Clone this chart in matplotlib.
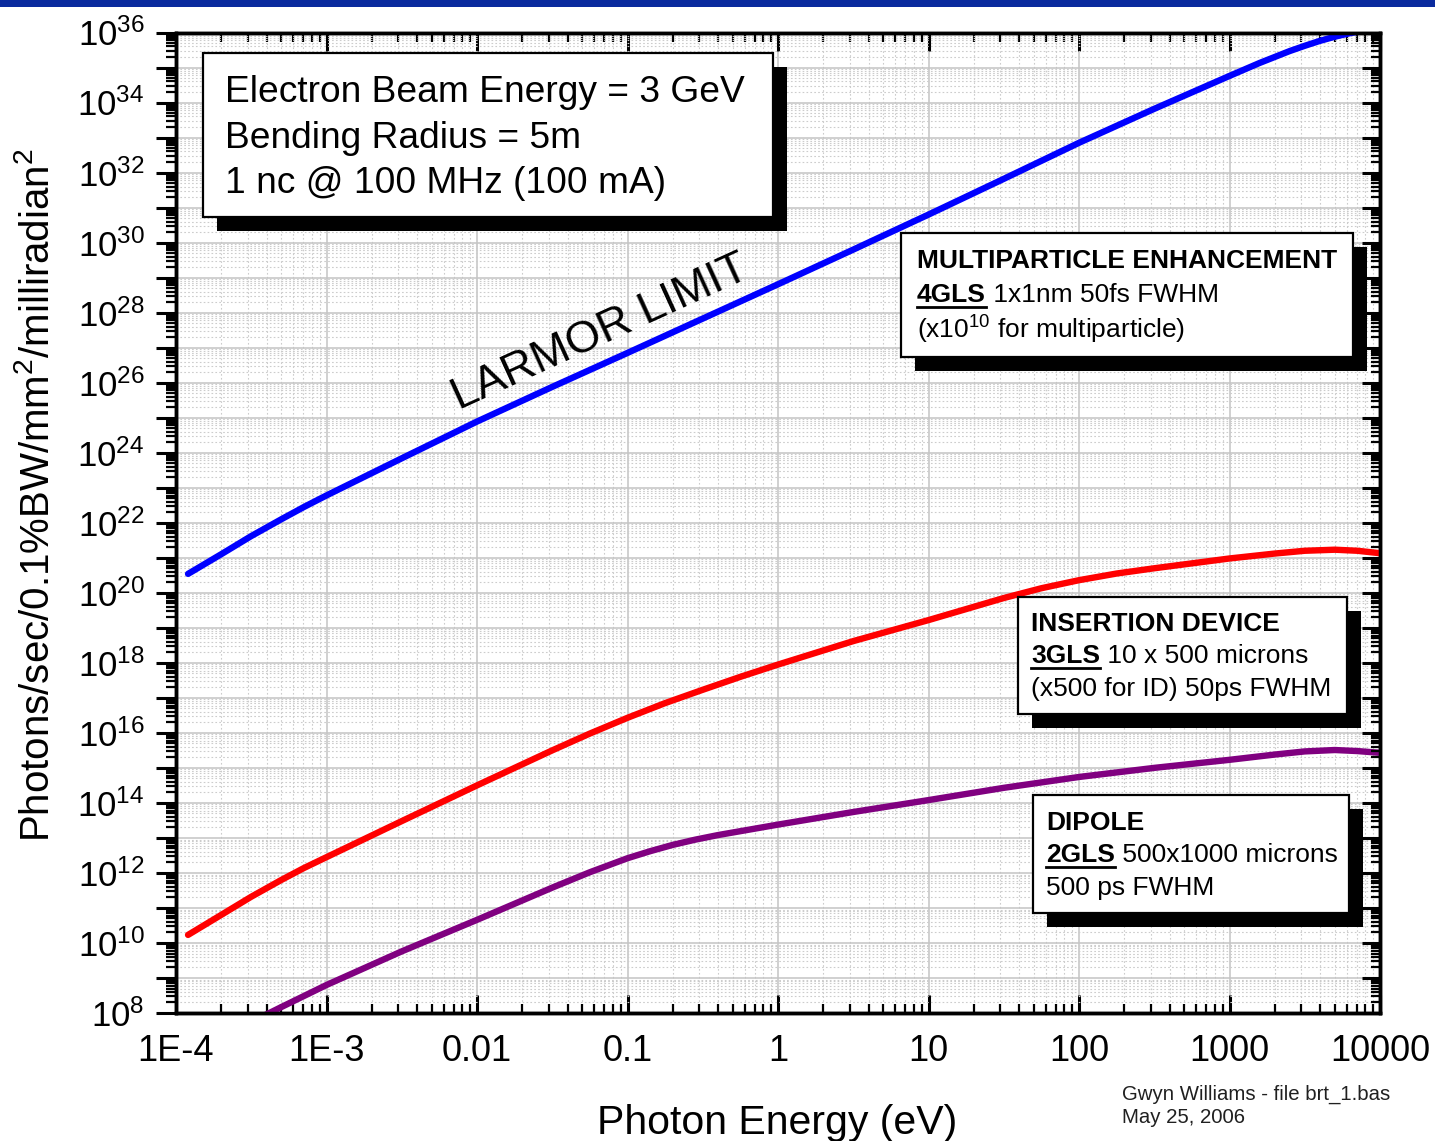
import numpy as np
import matplotlib
matplotlib.use('Agg')
import matplotlib.pyplot as plt
from matplotlib.patches import Rectangle
from matplotlib.lines import Line2D
from matplotlib.ticker import FixedLocator, FixedFormatter, LogLocator, FuncFormatter, NullFormatter

plt.rcParams['font.family'] = ['Liberation Sans', 'DejaVu Sans']
plt.rcParams['mathtext.fontset'] = 'custom'
plt.rcParams['mathtext.rm'] = 'Liberation Sans'
plt.rcParams['mathtext.it'] = 'Liberation Sans:italic'
plt.rcParams['mathtext.bf'] = 'Liberation Sans:bold'

# curves as log10(photon energy / eV), log10(brightness)
larmor_logE = [-3.92, -3.70, -3.50, -3.30, -3.15, -3.00, -2.50, -2.00, -1.50, -1.00, -0.50,
               0.00, 0.50, 1.00, 1.50, 2.00, 2.50, 3.00, 3.20, 3.40, 3.50, 3.60, 3.70, 3.80, 3.90, 4.00]
larmor_logB = [20.54, 21.10, 21.62, 22.10, 22.45, 22.78, 23.84, 24.89, 25.88, 26.85, 27.83,
               28.81, 29.80, 30.80, 31.82, 32.85, 33.82, 34.76, 35.13, 35.47, 35.62, 35.76, 35.88, 35.98, 36.06, 36.10]

insertion_logE = [-3.92, -3.70, -3.50, -3.30, -3.15, -3.00, -2.50, -2.00, -1.50, -1.25, -1.00, -0.75,
                  -0.50, -0.25, 0.00, 0.50, 1.00, 1.50, 1.75, 2.00, 2.25, 2.50, 3.00, 3.30, 3.50,
                  3.70, 3.85, 4.00]
insertion_logB = [10.23, 10.80, 11.32, 11.80, 12.14, 12.45, 13.48, 14.50, 15.50, 15.98, 16.43, 16.85,
                  17.23, 17.60, 17.95, 18.62, 19.22, 19.85, 20.13, 20.36, 20.55, 20.70, 20.98, 21.12, 21.20,
                  21.23, 21.20, 21.13]

dipole_logE = [-3.45, -3.30, -3.00, -2.50, -2.00, -1.50, -1.25, -1.00, -0.85, -0.70, -0.55, -0.40,
               -0.20, 0.00, 0.50, 1.00, 1.50, 2.00, 2.50, 3.00, 3.30, 3.50, 3.70, 3.85, 4.00]
dipole_logB = [7.85, 8.17, 8.80, 9.76, 10.66, 11.58, 12.02, 12.42, 12.62, 12.80, 12.95, 13.08,
               13.23, 13.38, 13.74, 14.08, 14.43, 14.74, 15.00, 15.23, 15.38, 15.47, 15.51, 15.48, 15.43]

x_tick_values = [1e-4, 1e-3, 1e-2, 1e-1, 1, 10, 100, 1000, 10000]
x_tick_labels = ['1E-4', '1E-3', '0.01', '0.1', '1', '10', '100', '1000', '10000']
y_decades = np.arange(8, 37)

W, H = 1435, 1141
fig = plt.figure(figsize=(W / 100, H / 100), dpi=100)


def fx(x):
    return x / W


def fy(y):
    return 1 - y / H


ax = fig.add_axes([fx(176), fy(1013), (1380 - 176) / W, (1013 - 32.5) / H])

lw = 4.6
ax.plot(10 ** np.array(larmor_logE), 10 ** np.array(larmor_logB), color='#0000ff', lw=lw,
        solid_capstyle='round', solid_joinstyle='round', zorder=3)
ax.plot(10 ** np.array(insertion_logE), 10 ** np.array(insertion_logB), color='#ff0000', lw=lw,
        solid_capstyle='round', solid_joinstyle='round', zorder=3)
ax.plot(10 ** np.array(dipole_logE), 10 ** np.array(dipole_logB), color='#800080', lw=lw,
        solid_capstyle='round', solid_joinstyle='round', zorder=3)

ax.set_xscale('log')
ax.set_yscale('log')
ax.set_xlim(1e-4, 1e4)
ax.set_ylim(1e8, 1e36)

ax.xaxis.set_major_locator(FixedLocator(x_tick_values))
ax.xaxis.set_major_formatter(FixedFormatter(x_tick_labels))
ax.xaxis.set_minor_locator(LogLocator(base=10, subs=np.arange(2, 10), numticks=100))
ax.xaxis.set_minor_formatter(NullFormatter())


def ylab(v, pos):
    e = int(round(np.log10(v)))
    return r'$10^{%d}$' % e if e % 2 == 0 else ''


ax.yaxis.set_major_locator(FixedLocator(10.0 ** y_decades))
ax.yaxis.set_major_formatter(FuncFormatter(ylab))
ax.yaxis.set_minor_locator(LogLocator(base=10, subs=np.arange(2, 10), numticks=100))
ax.yaxis.set_minor_formatter(NullFormatter())

ax.grid(which='major', color='#c4c4c4', lw=1.1, ls='-')
ax.grid(which='minor', color='#cccccc', lw=0.8, ls=(0, (1.5, 2)))
ax.set_axisbelow(True)

ax.tick_params(axis='x', which='major', direction='in', length=13, width=2.2, top=True, bottom=True,
               labelsize=26, pad=15)
ax.tick_params(axis='x', which='minor', direction='in', length=6.5, width=1.6, top=True, bottom=True)
ax.tick_params(axis='y', which='major', direction='out', length=14.5, width=2.2, right=False,
               labelsize=25, pad=8)
ax.tick_params(axis='y', which='minor', direction='out', length=7.5, width=1.6, right=False)

# right side ticks point inward, left side outward
axr = ax.twinx()
axr.set_yscale('log')
axr.set_ylim(1e8, 1e36)
axr.yaxis.set_major_locator(FixedLocator(10.0 ** y_decades))
axr.yaxis.set_major_formatter(NullFormatter())
axr.yaxis.set_minor_locator(LogLocator(base=10, subs=np.arange(2, 10), numticks=100))
axr.yaxis.set_minor_formatter(NullFormatter())
axr.tick_params(axis='y', which='major', direction='in', length=13, width=2.2)
axr.tick_params(axis='y', which='minor', direction='in', length=6.5, width=1.6)

for a in (ax, axr):
    for s in a.spines.values():
        s.set_linewidth(2.5)

# axis titles
fig.text(fx(38), fy(495), 'Photons/sec/0.1%BW/mm$^2$/milliradian$^2$', rotation=90,
         ha='center', va='center', fontsize=29)
fig.text(fx(777), fy(1134), 'Photon Energy (eV)', ha='center', va='baseline', fontsize=29.5)

# header band
fig.add_artist(Rectangle((0, fy(7)), 1, 7 / H, transform=fig.transFigure,
                         facecolor='#0a2a9e', edgecolor='none', zorder=10))

fig.text(fx(600), fy(333), 'LARMOR LIMIT', rotation=24.5, rotation_mode='anchor',
         ha='center', va='center', fontsize=32.5, zorder=4)

renderer = fig.canvas.get_renderer()


def shadow_box(x0, y0, x1, y1, off=14):
    fig.add_artist(Rectangle((fx(x0 + off), fy(y1 + off)), (x1 - x0) / W, (y1 - y0) / H,
                             transform=fig.transFigure, facecolor='black', edgecolor='none', zorder=5))
    fig.add_artist(Rectangle((fx(x0), fy(y1)), (x1 - x0) / W, (y1 - y0) / H,
                             transform=fig.transFigure, facecolor='white', edgecolor='black',
                             linewidth=1.6, zorder=6))


def rich_line(x, y, parts, size):
    cur = x
    for s, bold, under in parts:
        t = fig.text(fx(cur), fy(y), s, fontsize=size, fontweight='bold' if bold else 'normal',
                     ha='left', va='baseline', zorder=7)
        bb = t.get_window_extent(renderer=renderer)
        if under:
            fig.add_artist(Line2D([bb.x0 / W, bb.x1 / W], [fy(y + 4.5)] * 2, transform=fig.transFigure,
                                  color='black', lw=2, zorder=7))
        cur = bb.x1


shadow_box(203, 53, 773, 217)
for i, s in enumerate(['Electron Beam Energy = 3 GeV', 'Bending Radius = 5m', '1 nc @ 100 MHz (100 mA)']):
    fig.text(fx(225), fy(102 + 45.5 * i), s, fontsize=26.7, ha='left', va='baseline', zorder=7)

fs = 19
shadow_box(901, 233, 1353, 357)
rich_line(917, 268, [('MULTIPARTICLE ENHANCEMENT', True, False)], fs)
rich_line(917, 302, [('4GLS', True, True), (' 1x1nm 50fs FWHM', False, False)], fs)
rich_line(917, 339, [('(x10$^{10}$ for multiparticle)', False, False)], fs)

shadow_box(1018, 597, 1347, 714)
rich_line(1031, 631, [('INSERTION DEVICE', True, False)], fs)
rich_line(1031, 663, [('3GLS', True, True), (' 10 x 500 microns', False, False)], fs)
rich_line(1031, 696, [('(x500 for ID) 50ps FWHM', False, False)], fs)

shadow_box(1033, 795, 1349, 913)
rich_line(1046, 830, [('DIPOLE', True, False)], fs)
rich_line(1046, 862, [('2GLS', True, True), (' 500x1000 microns', False, False)], fs)
rich_line(1046, 895, [('500 ps FWHM', False, False)], fs)

fig.text(fx(1122), fy(1100), 'Gwyn Williams - file brt_1.bas', fontsize=14.7, color='#202020', va='baseline')
fig.text(fx(1122), fy(1123), 'May 25, 2006', fontsize=14.7, color='#202020', va='baseline')

fig.savefig('out.png', dpi=100)
